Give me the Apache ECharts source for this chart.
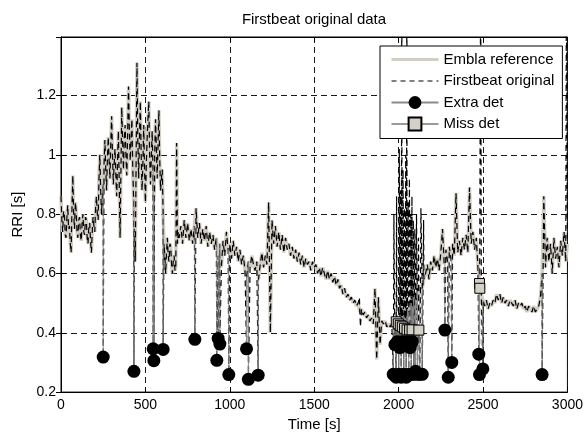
<!DOCTYPE html>
<html><head><meta charset="utf-8">
<script src="https://cdn.jsdelivr.net/npm/echarts@6/dist/echarts.min.js"></script>
<style>html,body{margin:0;padding:0;background:#fff}#c{width:586px;height:437px}</style>
</head><body><div id="c"></div>
<script>
// ---- data ----
const titleText = 'Firstbeat original data';
const xName = 'Time [s]';
const yName = 'RRI [s]';
const seriesNames = ['Embla reference', 'Firstbeat original', 'Extra det', 'Miss det'];
const xTicks = [0, 500, 1000, 1500, 2000, 2500, 3000];
const xTickLabels = ['0', '500', '1000', '1500', '2000', '2500', '3000'];
const yTicks = [0.2, 0.4, 0.6, 0.8, 1.0, 1.2];
const yTickLabels = ['0.2', '0.4', '0.6', '0.8', '1', '1.2'];

// Embla reference RRI, 0 s .. 695 s sampled every 5 s
const earlyStart = 0, earlyStep = 5;
const emblaEarly = [
  0.86,0.78,0.74,0.81,0.80,0.73,0.72,0.79,0.83,0.75,
  0.76,0.70,0.67,0.82,0.93,0.80,0.75,0.84,0.81,0.74,
  0.72,0.78,0.79,0.73,0.71,0.77,0.80,0.74,0.73,0.79,
  0.78,0.72,0.70,0.76,0.77,0.71,0.67,0.74,0.79,0.76,
  0.74,0.82,0.86,0.80,0.78,0.92,1.00,0.88,0.80,0.86,
  0.90,0.97,1.05,0.95,0.88,0.99,1.06,0.98,0.92,1.04,
  1.13,1.00,0.90,0.97,1.02,0.93,0.86,0.98,1.08,0.90,
  0.72,0.95,1.16,1.04,0.95,1.06,1.10,0.99,0.93,1.08,
  1.23,1.08,0.98,1.05,1.12,0.96,0.85,0.75,0.64,0.98,
  1.31,1.05,0.92,1.06,1.18,1.00,0.88,0.97,1.10,0.95,
  0.84,0.96,1.05,1.12,1.18,1.00,0.90,0.99,1.08,0.95,
  0.86,1.00,1.12,1.02,0.92,1.04,1.15,0.98,0.88,0.92,
  0.95,0.80,0.70,0.66,0.60,0.67,0.72,0.66,0.64,0.70,
  0.69,0.63,0.60,0.64,0.66,0.61,0.62,1.04,0.70,0.74
];
// Embla reference RRI, 700 s .. 3000 s sampled every 10 s
const lateStart = 700, lateStep = 10;
const emblaLate = [
  0.72,0.76,0.70,0.78,0.72,0.77,0.71,0.75,0.70,0.76,
  0.82,0.72,0.77,0.70,0.75,0.71,0.76,0.69,0.74,0.70,
  0.73,0.68,0.72,0.66,0.70,0.62,0.71,0.66,0.74,0.68,
  0.70,0.65,0.71,0.66,0.69,0.64,0.68,0.63,0.66,0.61,
  0.59,0.64,0.62,0.66,0.63,0.61,0.64,0.58,0.63,0.67,
  0.62,0.66,0.63,0.84,0.40,0.78,0.70,0.76,0.69,0.74,
  0.68,0.73,0.67,0.72,0.68,0.70,0.66,0.69,0.65,0.68,
  0.64,0.67,0.63,0.66,0.62,0.65,0.63,0.64,0.61,0.64,
  0.62,0.63,0.60,0.62,0.59,0.62,0.60,0.58,0.61,0.58,
  0.60,0.57,0.59,0.56,0.58,0.55,0.56,0.53,0.55,0.52,
  0.53,0.51,0.52,0.50,0.51,0.49,0.50,0.47,0.48,0.46,
  0.47,0.45,0.46,0.44,0.45,0.43,0.55,0.31,0.52,0.36,
  0.44,0.43,0.44,0.42,0.43,0.42,0.43,0.42,0.43,0.43,
  0.44,0.43,0.45,0.46,0.45,0.48,0.47,0.50,0.49,0.52,
  0.51,0.54,0.53,0.56,0.55,0.58,0.60,0.63,0.58,0.64,
  0.61,0.66,0.62,0.65,0.61,0.67,0.75,0.63,0.68,0.64,
  0.69,0.65,0.70,0.66,0.87,0.67,0.71,0.66,0.72,0.68,
  0.73,0.67,0.89,0.70,0.74,0.68,0.72,0.62,0.57,0.53,
  0.51,0.49,0.51,0.48,0.50,0.49,0.51,0.50,0.53,0.51,
  0.53,0.50,0.52,0.50,0.51,0.49,0.51,0.50,0.49,0.51,
  0.48,0.50,0.49,0.50,0.48,0.49,0.47,0.49,0.48,0.47,
  0.49,0.47,0.48,0.49,0.52,0.60,0.86,0.62,0.72,0.64,
  0.70,0.60,0.72,0.65,0.69,0.62,0.71,0.66,0.74,0.64,
  0.70
];

// Firstbeat-only excursions (time s, RRI s) that differ from the reference
const fbTimes  = [1768,1774,1972,1988,2004,2012,2019,2026,2034,2042,2049,2056,2064,2072,2079,2087,2096,2106,2118,2132,2148,2486,2994];
const fbValues = [0.52,0.42,0.80,0.86,1.02,0.88,1.60,0.95,0.82,1.00,1.60,0.84,0.92,0.80,0.86,0.78,0.75,0.80,0.72,0.82,0.78,1.60,1.60];

// Extra detections (time s, RRI s)
const extraTimes  = [250,432,546,550,605,793,923,931,941,994,1099,1110,1168,
  1968,1978,1985,1992,2000,2008,2015,2022,2030,2038,2045,2052,2060,2068,2075,2082,2090,2100,2112,2125,2140,
  2274,2294,2315,2475,2479,2499,2850];
const extraValues = [0.318,0.270,0.346,0.306,0.344,0.378,0.307,0.381,0.362,0.259,0.346,0.243,0.257,
  0.26,0.36,0.25,0.37,0.26,0.35,0.25,0.37,0.26,0.36,0.25,0.37,0.26,0.35,0.26,0.37,0.26,0.27,0.26,0.26,0.26,
  0.409,0.250,0.300,0.328,0.259,0.278,0.259];

// Missed detections (time s, RRI s)
const missTimes  = [1986,1998,2010,2022,2035,2050,2065,2080,2120,2479,2481];
const missValues = [0.437,0.430,0.425,0.420,0.415,0.410,0.410,0.410,0.409,0.566,0.550];

// ---- build series data from the arrays ----
const refPts = emblaEarly.map((v, i) => [earlyStart + i * earlyStep, v])
  .concat(emblaLate.map((v, i) => [lateStart + i * lateStep, v]));
const nearestRef = t => {
  let best = refPts[0];
  refPts.forEach(p => { if (Math.abs(p[0] - t) < Math.abs(best[0] - t)) best = p; });
  return best[1];
};
const fbPts = refPts.map(p => [p[0], p[1], 0])
  .concat(fbTimes.map((t, i) => [t, fbValues[i], 1]))
  .concat(extraTimes.map((t, i) => [t, extraValues[i], 2]))
  .sort((a, b) => a[0] - b[0] || a[2] - b[2])
  .map(p => [p[0], p[1]]);
const extraPts = [];
extraTimes.forEach((t, i) => {
  extraPts.push({ value: [t, nearestRef(t)], symbol: 'none' });
  extraPts.push({ value: [t, extraValues[i]] });
  extraPts.push({ value: [t, '-'] });
});
const missPts = [];
missTimes.forEach((t, i) => {
  missPts.push({ value: [t, missValues[i]] });
  missPts.push({ value: [t, '-'] });
});

const FONT = 'Liberation Sans, Arial, Helvetica, sans-serif';
const chart = echarts.init(document.getElementById('c'), null, { renderer: 'canvas' });
const pick = (ticks, labels) => v => {
  for (let i = 0; i < ticks.length; i++) if (Math.abs(v - ticks[i]) < 1e-6) return labels[i];
  return '';
};
const gridDash = { color: '#1a1a1a', width: 1, type: [6, 4] };
const hiddenSym = { color: 'rgba(0,0,0,0)', borderWidth: 0, opacity: 0 };
chart.setOption({
  animation: false,
  backgroundColor: '#fff',
  textStyle: { fontFamily: FONT },
  graphic: [{
    type: 'text', x: 314, y: 12,
    style: { text: titleText, fontFamily: FONT, fontSize: 15, fill: '#000', textAlign: 'center', textVerticalAlign: 'top' }
  }],
  grid: { left: 61, right: 18, top: 37, bottom: 41, show: true, borderColor: '#000', borderWidth: 1, backgroundColor: 'transparent' },
  legend: {
    orient: 'vertical', left: 380, top: 46,
    padding: [6, 8, 7, 10], itemWidth: 47, itemHeight: 16, itemGap: 6.5,
    backgroundColor: '#fff', borderColor: '#000', borderWidth: 1, borderRadius: 0,
    textStyle: { fontFamily: FONT, fontSize: 15, color: '#000' },
    data: [
      { name: seriesNames[0], itemStyle: hiddenSym, lineStyle: { width: 3, color: '#d2cec6' } },
      { name: seriesNames[1], itemStyle: hiddenSym, lineStyle: { width: 1, color: '#000', type: [5, 4] } },
      { name: seriesNames[2] },
      { name: seriesNames[3] }
    ],
    selectedMode: false
  },
  xAxis: [{
    type: 'value', min: 0, max: 3000, interval: 500, position: 'bottom',
    name: xName, nameLocation: 'middle', nameGap: 23,
    nameTextStyle: { fontFamily: FONT, fontSize: 15, color: '#000' },
    axisLine: { show: true, lineStyle: { color: '#000' } },
    axisTick: { show: true, inside: true, length: 5, lineStyle: { color: '#000' } },
    axisLabel: { fontFamily: FONT, fontSize: 14, color: '#000', margin: 6, formatter: pick(xTicks, xTickLabels) },
    splitLine: { show: true, lineStyle: gridDash }
  }, {
    type: 'value', min: 0, max: 3000, interval: 500, position: 'top',
    axisLine: { show: true, lineStyle: { color: '#000' } },
    axisTick: { show: true, inside: true, length: 5, lineStyle: { color: '#000' } },
    axisLabel: { show: false }, splitLine: { show: false }
  }],
  yAxis: [{
    type: 'value', min: 0.2, max: 1.397, interval: 0.2, position: 'left',
    name: yName, nameLocation: 'middle', nameGap: 36, nameRotate: 90,
    nameTextStyle: { fontFamily: FONT, fontSize: 15, color: '#000' },
    axisLine: { show: true, lineStyle: { color: '#000' } },
    axisTick: { show: true, inside: true, length: 5, lineStyle: { color: '#000' } },
    axisLabel: { fontFamily: FONT, fontSize: 14, color: '#000', margin: 5, formatter: pick(yTicks, yTickLabels), showMaxLabel: false },
    splitLine: { show: true, lineStyle: gridDash }
  }, {
    type: 'value', min: 0.2, max: 1.397, interval: 0.2, position: 'right',
    axisLine: { show: true, lineStyle: { color: '#000' } },
    axisTick: { show: true, inside: true, length: 5, lineStyle: { color: '#000' } },
    axisLabel: { show: false }, splitLine: { show: false }
  }],
  series: [{
    name: seriesNames[0], type: 'line', data: refPts, symbol: 'none',
    lineStyle: { color: '#d2cec6', width: 3.5 }, itemStyle: { color: '#d2cec6' }, z: 1
  }, {
    name: seriesNames[1], type: 'line', data: fbPts, symbol: 'none',
    lineStyle: { color: '#000', width: 1.2, type: [6, 4] }, itemStyle: { color: '#000' }, z: 2
  }, {
    name: seriesNames[2], type: 'line', data: extraPts, symbol: 'circle', symbolSize: 13,
    connectNulls: false,
    lineStyle: { color: '#8a8a8a', width: 1 }, itemStyle: { color: '#000' }, z: 3
  }, {
    name: seriesNames[3], type: 'line', data: missPts, symbol: 'rect', symbolSize: 10,
    connectNulls: false,
    lineStyle: { color: '#9a9a9a', width: 1 }, itemStyle: { color: '#d4d0c8', borderColor: '#000', borderWidth: 1 }, z: 4
  }]
});
</script>
</body></html>
